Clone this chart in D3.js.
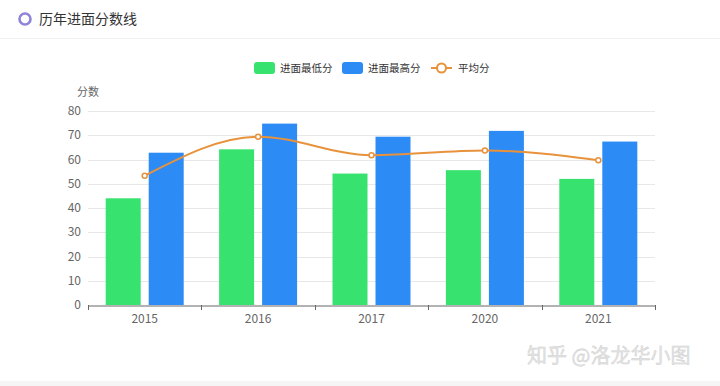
<!DOCTYPE html>
<html>
<head>
<meta charset="utf-8">
<script src="https://cdn.jsdelivr.net/npm/d3@7"></script>
<style>
  body { margin: 0; background: #fff; }
  svg { display: block; font-family: "Noto Sans CJK SC", "Noto Sans", sans-serif; }
</style>
</head>
<body>
<script>
const years = ["2015", "2016", "2017", "2020", "2021"]
const minScore = [44, 64.2, 54.2, 55.6, 52]
const maxScore = [62.8, 74.8, 69.4, 71.8, 67.4]
const avgScore = [53.3, 69.4, 61.8, 63.7, 59.7]
const yTicks = [0, 10, 20, 30, 40, 50, 60, 70, 80]

const width = 720
const height = 386
const margin = { top: 111, right: 65, bottom: 81, left: 88 }

const green = "#38e26e"
const blue = "#2d8bf5"
const orange = "#e8923c"

const svg = d3.select("body").append("svg")
  .attr("width", width)
  .attr("height", height)

// header
svg.append("circle")
  .attr("cx", 25).attr("cy", 19).attr("r", 5.5)
  .attr("fill", "none").attr("stroke", "#8f84d8").attr("stroke-width", 2.6)
svg.append("text")
  .attr("x", 39).attr("y", 24)
  .attr("font-size", 14).attr("fill", "#333")
  .text("历年进面分数线")
svg.append("line")
  .attr("x1", 0).attr("x2", width).attr("y1", 38.5).attr("y2", 38.5)
  .attr("stroke", "#f0f0f0")

const x = d3.scaleBand()
  .domain(years)
  .range([margin.left, width - margin.right])

const y = d3.scaleLinear()
  .domain([0, 80])
  .range([height - margin.bottom, margin.top])

// grid
svg.append("g")
  .selectAll("line")
  .data(yTicks.slice(1))
  .join("line")
  .attr("x1", margin.left).attr("x2", width - margin.right)
  .attr("y1", d => Math.round(y(d)) + 0.5).attr("y2", d => Math.round(y(d)) + 0.5)
  .attr("stroke", "#e8e8e8")

// y labels
svg.append("g")
  .selectAll("text")
  .data(yTicks)
  .join("text")
  .attr("x", margin.left - 7)
  .attr("y", d => y(d) + 4)
  .attr("text-anchor", "end")
  .attr("font-size", 12).attr("fill", "#666")
  .text(d => d)

svg.append("text")
  .attr("x", 88).attr("y", 96)
  .attr("text-anchor", "middle")
  .attr("font-size", 11).attr("fill", "#666")
  .text("分数")

// x axis
const xAxis = svg.append("g")
  .attr("transform", `translate(0,${y(0) + 0.5})`)
  .call(d3.axisBottom(x).tickSize(0).tickPadding(9))
xAxis.select(".domain").attr("stroke", "#666")
xAxis.selectAll("text").attr("font-size", 12).attr("fill", "#666")
  .attr("font-family", "\"Noto Sans CJK SC\", \"Noto Sans\", sans-serif")
svg.append("g")
  .selectAll("line")
  .data(years.map(d => x(d)).concat([x.range()[1]]))
  .join("line")
  .attr("x1", d => Math.round(d) + 0.5).attr("x2", d => Math.round(d) + 0.5)
  .attr("y1", y(0)).attr("y2", y(0) + 5)
  .attr("stroke", "#666")

// bars
const barW = 35
const off = 21.5
svg.append("g")
  .selectAll("rect")
  .data(minScore)
  .join("rect")
  .attr("x", (d, i) => x(years[i]) + x.bandwidth() / 2 - off - barW / 2)
  .attr("y", d => y(d))
  .attr("width", barW)
  .attr("height", d => y(0) - y(d))
  .attr("fill", green)

svg.append("g")
  .selectAll("rect")
  .data(maxScore)
  .join("rect")
  .attr("x", (d, i) => x(years[i]) + x.bandwidth() / 2 + off - barW / 2)
  .attr("y", d => y(d))
  .attr("width", barW)
  .attr("height", d => y(0) - y(d))
  .attr("fill", blue)

// average line
const line = d3.line()
  .x((d, i) => x(years[i]) + x.bandwidth() / 2)
  .y(d => y(d))
  .curve(d3.curveMonotoneX)
svg.append("path")
  .datum(avgScore)
  .attr("d", line)
  .attr("fill", "none").attr("stroke", orange).attr("stroke-width", 2)
svg.append("g")
  .selectAll("circle")
  .data(avgScore)
  .join("circle")
  .attr("cx", (d, i) => x(years[i]) + x.bandwidth() / 2)
  .attr("cy", d => y(d))
  .attr("r", 2.5)
  .attr("fill", "#fff").attr("stroke", orange).attr("stroke-width", 1.5)

// legend
const legend = svg.append("g").attr("font-size", 10.5).attr("fill", "#333")
legend.append("rect").attr("x", 254).attr("y", 62).attr("width", 21).attr("height", 12).attr("rx", 3).attr("fill", green)
legend.append("text").attr("x", 280).attr("y", 72).text("进面最低分")
legend.append("rect").attr("x", 342).attr("y", 62).attr("width", 21).attr("height", 12).attr("rx", 3).attr("fill", blue)
legend.append("text").attr("x", 368).attr("y", 72).text("进面最高分")
legend.append("line").attr("x1", 431).attr("x2", 452).attr("y1", 68).attr("y2", 68).attr("stroke", orange).attr("stroke-width", 2)
legend.append("circle").attr("cx", 441.5).attr("cy", 68).attr("r", 4.5).attr("fill", "#fff").attr("stroke", orange).attr("stroke-width", 2)
legend.append("text").attr("x", 458).attr("y", 72).text("平均分")

// watermark
svg.append("text")
  .attr("x", 527).attr("y", 363)
  .attr("font-size", 20).attr("fill", "#e4e4e4")
  .attr("stroke", "#cfcfcf").attr("stroke-width", 0.4)
  .text("知乎 @洛龙华小图")

svg.append("rect")
  .attr("x", 0).attr("y", 381).attr("width", width).attr("height", 5)
  .attr("fill", "#f5f5f5")
</script>
</body>
</html>
